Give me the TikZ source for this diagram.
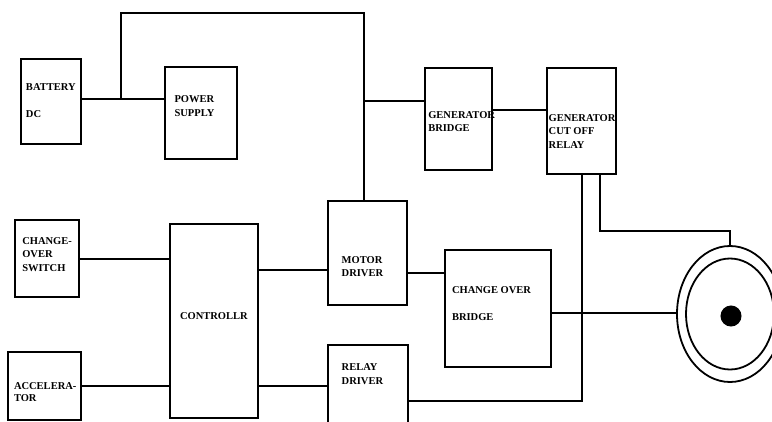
\documentclass[tikz,border=0pt]{standalone}
\usepackage{fontspec}
\setmainfont{Liberation Serif}
\usetikzlibrary{shapes.geometric}
\begin{document}
\begin{tikzpicture}[x=1pt,y=-1pt,
  box/.style={draw, line width=2.2pt, inner sep=0pt, outer sep=0pt},
  wire/.style={line width=2pt},
  thin wire/.style={line width=1.6pt},
  lbl/.style={anchor=base west, inner sep=0pt, outer sep=0pt, font=\fontsize{10.5}{12}\selectfont\bfseries},
  rim/.style={draw, ellipse, line width=1.8pt, inner sep=0pt, outer sep=0pt}]
\useasboundingbox (0,0) rectangle (772,421);
% boxes
\node[box, minimum width=60pt, minimum height=85pt] (bat) at (51,101.5) {};
\node[box, minimum width=72pt, minimum height=92pt] (ps) at (201,113) {};
\node[box, minimum width=67pt, minimum height=102pt] (gb) at (458.5,119) {};
\node[box, minimum width=69pt, minimum height=106pt] (gc) at (581.5,121) {};
\node[box, minimum width=64pt, minimum height=77pt] (sw) at (47,258.5) {};
\node[box, minimum width=73pt, minimum height=68pt] (acc) at (44.5,386) {};
\node[box, minimum width=88pt, minimum height=194pt] (ctl) at (214,321) {};
\node[box, minimum width=79pt, minimum height=104pt] (md) at (367.5,253) {};
\node[box, minimum width=80pt, minimum height=82pt] (rd) at (368,386) {};
\node[box, minimum width=106pt, minimum height=117pt] (cob) at (498,308.5) {};
% wheel
\node[rim, minimum width=106pt, minimum height=136pt] (wheel) at (730,314) {};
\node[rim, minimum width=88pt, minimum height=111pt] (inner) at (730,314) {};
\node[draw, circle, fill=black, line width=1pt, minimum size=20pt, inner sep=0pt] (hub) at (731,316) {};
% labels
\node[lbl] (t1) at (26,90.7) {BATTERY};
\node[lbl] (t2) at (26,117.7) {DC};
\node[lbl] (t3) at (174.5,102.7) {POWER};
\node[lbl] (t4) at (174.5,116.2) {SUPPLY};
\node[lbl] (t5) at (428.3,118.3) {GENERATOR};
\node[lbl] (t6) at (428.3,131.7) {BRIDGE};
\node[lbl] (t7) at (548.7,121) {GENERATOR};
\node[lbl] (t8) at (548.7,134.7) {CUT OFF};
\node[lbl] (t9) at (548.7,148.3) {RELAY};
\node[lbl] (t10) at (22.3,244.3) {CHANGE-};
\node[lbl] (t11) at (22.3,257.5) {OVER};
\node[lbl] (t12) at (22.3,271.3) {SWITCH};
\node[lbl] (t13) at (14,389) {ACCELERA-};
\node[lbl] (t14) at (14,401.5) {TOR};
\node[lbl] (t15) at (180,319.3) {CONTROLLR};
\node[lbl] (t16) at (341.7,263) {MOTOR};
\node[lbl] (t17) at (341.7,276.7) {DRIVER};
\node[lbl] (t18) at (341.7,370.3) {RELAY};
\node[lbl] (t19) at (341.7,384) {DRIVER};
\node[lbl] (t20) at (452,293.3) {CHANGE OVER};
\node[lbl] (t21) at (452,320.3) {BRIDGE};
% junctions
\coordinate (j1) at (121,99);
\coordinate (top1) at (121,13);
\coordinate (top2) at (364,13);
\coordinate (j2) at (364,101);
\coordinate (r1) at (582,401);
\coordinate (r2) at (600,231);
% connectors
\draw[wire] (bat.east |- j1) -- (j1) -- (ps.west |- j1);
\draw[wire] (j1) -- (top1) -- (top2) -- (top2 |- md.north);
\draw[wire] (j2) -- (gb.west |- j2);
\draw[wire] (gb.east |- 0,110) -- (gc.west |- 0,110);
\draw[wire] (sw.east |- 0,258.7) -- (ctl.west |- 0,258.7);
\draw[wire] (acc.east |- 0,385.7) -- (ctl.west |- 0,385.7);
\draw[wire] (ctl.east |- 0,270.3) -- (md.west |- 0,270.3);
\draw[wire] (ctl.east |- 0,386.3) -- (rd.west |- 0,386.3);
\draw[wire] (md.east |- 0,273.3) -- (cob.west |- 0,273.3);
\draw[thin wire] (rd.east |- r1) -- (r1) -- (r1 |- gc.south);
\draw[thin wire] (r2 |- gc.south) -- (r2) -- (r2 -| wheel.north) -- (wheel.north);
\draw[thin wire] (cob.east |- 0,313) -- (wheel.west |- 0,313);
\end{tikzpicture}
\end{document}
